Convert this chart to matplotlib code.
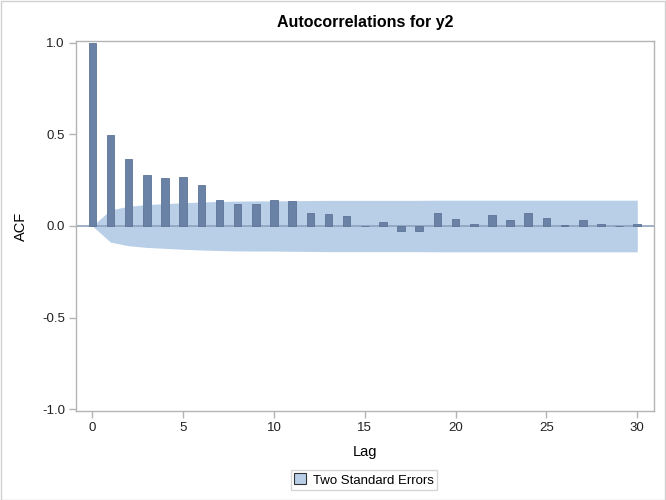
import numpy as np
import matplotlib
matplotlib.use("Agg")
import matplotlib.pyplot as plt
from matplotlib.patches import Patch

plt.rcParams['font.family'] = ['Liberation Sans', 'DejaVu Sans']

# ACF values
lags = list(range(31))
acf = [1.0, 0.495, 0.364, 0.280, 0.262, 0.269, 0.224, 0.144, 0.118, 0.120,
       0.142, 0.138, 0.073, 0.065, 0.056, 0.002, 0.020, -0.029, -0.029, 0.071,
       0.036, 0.013, 0.058, 0.033, 0.071, 0.042, 0.007, 0.035, 0.009, 0.001,
       0.009]
# two standard error band (upper half, symmetric)
band = [0.0, 0.088, 0.108, 0.117, 0.122, 0.127, 0.131, 0.134, 0.136, 0.137,
        0.137, 0.138, 0.139, 0.140, 0.140, 0.140, 0.140, 0.140, 0.140, 0.141,
        0.141, 0.141, 0.141, 0.141, 0.141, 0.141, 0.141, 0.141, 0.141, 0.141,
        0.141]

bar_col = '#6a82a6'
band_col = '#b9cfe8'
frame_col = '#b4b4b4'

fig = plt.figure(figsize=(6.66, 5.0), dpi=100)
ax = fig.add_axes([76 / 666, 1 - 411 / 500, (654 - 76) / 666, (411 - 41) / 500])

lag_arr = np.array(lags)
band_arr = np.array(band)
ax.fill_between(lag_arr, -band_arr, band_arr, color=band_col, lw=0, zorder=1)
ax.axhline(0, color='#8ea2bd', lw=1.2, zorder=2)
ax.bar(lags, acf, width=0.42, color=bar_col, edgecolor='#5d7498', lw=0.6, zorder=3)

ax.set_xlim(-0.9, 30.92)
ax.set_ylim(-1.01, 1.01)
ax.set_xticks([0, 5, 10, 15, 20, 25, 30])
ax.set_yticks([-1.0, -0.5, 0.0, 0.5, 1.0])
ax.set_yticklabels(['-1.0', '-0.5', '0.0', '0.5', '1.0'])
ax.tick_params(axis='both', direction='out', length=5, width=1, color=frame_col,
               labelsize=9.5, labelcolor='#222222', pad=3)
for s in ax.spines.values():
    s.set_color(frame_col)
    s.set_linewidth(1)

ax.set_xlabel('Lag', fontsize=10.5, labelpad=8)
ax.set_ylabel('ACF', fontsize=10.5, labelpad=10)
ax.set_title('Autocorrelations for y2', fontsize=11.5, fontweight='bold', pad=10)

leg = fig.legend(handles=[Patch(facecolor=band_col, edgecolor='#333333', lw=0.8,
                                label='Two Standard Errors')],
                 loc='center', bbox_to_anchor=(364 / 666, 1 - 480 / 500),
                 frameon=True, fancybox=False, fontsize=9.5,
                 handlelength=0.9, handleheight=0.9, handletextpad=0.5,
                 borderpad=0.25, borderaxespad=0)
leg.get_frame().set_edgecolor('#cccccc')
leg.get_frame().set_linewidth(1)

fig.patches.append(plt.Rectangle((0.001, 0.001), 0.997, 0.997, transform=fig.transFigure,
                                 fill=False, edgecolor='#d0d0d0', lw=1))

fig.savefig('out.png', dpi=100)
